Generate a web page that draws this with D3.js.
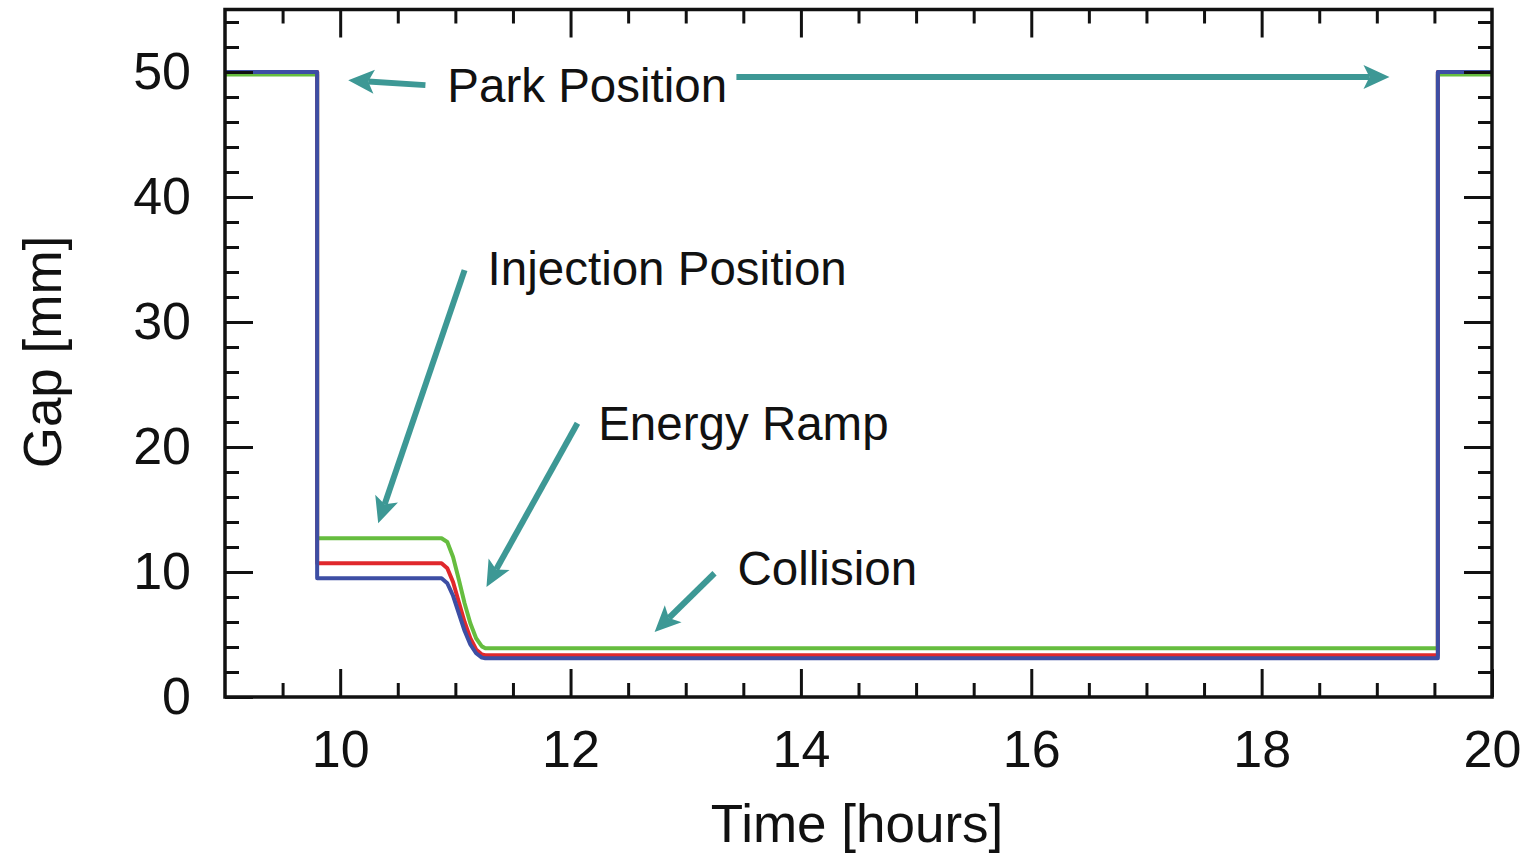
<!DOCTYPE html>
<html>
<head>
<meta charset="utf-8">
<script src="https://cdn.jsdelivr.net/npm/d3@7"></script>
<style>
  html, body { margin: 0; padding: 0; background: #fff; }
  svg { display: block; }
  text { font-family: "Liberation Sans", Arial, Helvetica, sans-serif; fill: #111; }
</style>
</head>
<body>
<svg id="chart" width="1535" height="859"></svg>
<script>
// ---- data ----
const time  = [9, 9.8, 9.8, 10.88, 10.93, 10.98, 11.03, 11.08, 11.13, 11.18, 11.23, 11.26, 19.53, 19.53, 20];
const blue  = [50, 50, 9.5, 9.5, 9.1, 8.1, 6.7, 5.3, 4.2, 3.5, 3.15, 3.1, 3.1, 50, 50];
const red   = [50, 50, 10.7, 10.7, 10.3, 9.2, 7.6, 6.0, 4.7, 3.8, 3.4, 3.35, 3.35, 50, 50];
const green = [49.8, 49.8, 12.7, 12.7, 12.4, 11.2, 9.4, 7.5, 5.9, 4.7, 4.05, 3.9, 3.9, 49.8, 49.8];

const xTickLabels = [10, 12, 14, 16, 18, 20];
const yTickLabels = [0, 10, 20, 30, 40, 50];

const annotations = [
  { text: "Park Position",      x: 10.93, y: 47.6 },
  { text: "Injection Position", x: 11.28, y: 32.95 },
  { text: "Energy Ramp",        x: 12.24, y: 20.55 },
  { text: "Collision",          x: 13.45, y: 8.95 }
];
const arrowsFrom = [[10.74, 48.95], [13.44, 49.6], [11.08, 34.15], [12.06, 21.9], [13.25, 9.9]];
const arrowsTo   = [[10.07, 49.35], [19.11, 49.6], [10.33, 13.9], [11.27, 8.8], [12.73, 5.2]];

// ---- layout ----
const svg = d3.select("#chart");
const x = d3.scaleLinear().domain([9, 20]).range([225, 1492]);
const y = d3.scaleLinear().domain([0, 55]).range([697, 9.5]);
const font = "Liberation Sans, Arial, Helvetica, sans-serif";

// ---- series ----
const series = [
  { name: "green", vals: green, color: "#66bd3f" },
  { name: "red",   vals: red,   color: "#e0282c" },
  { name: "blue",  vals: blue,  color: "#3d4ea4" }
];
const line = d3.line().x(d => x(d[0])).y(d => y(d[1]));
const gLines = svg.append("g");
series.forEach(s => {
  gLines.append("path")
    .datum(time.map((t, i) => [t, s.vals[i]]))
    .attr("d", line)
    .attr("fill", "none")
    .attr("stroke", s.color)
    .attr("stroke-width", 4)
    .attr("stroke-linejoin", "round");
});

// ---- axes (ticks inward on all four sides) ----
const xMinor = d3.range(9.5, 20, 0.5).filter(v => Math.abs(v % 2) > 1e-9);
const yMinor = d3.range(2, 55, 2).filter(v => v % 10 !== 0);
const xMajorAll = [10, 12, 14, 16, 18];
const yMajorAll = [10, 20, 30, 40, 50];

function styleAxis(g) {
  g.select(".domain").remove();
  g.selectAll(".tick line").attr("stroke", "#111").attr("stroke-width", 3);
  g.selectAll("text").style("font-family", font).style("font-size", "52px").attr("fill", "#111");
}
// bottom
svg.append("g").attr("transform", "translate(0,697)")
  .call(d3.axisBottom(x).tickValues(xMinor).tickSizeInner(-14).tickSizeOuter(0).tickFormat(""))
  .call(styleAxis);
svg.append("g").attr("transform", "translate(0,697)")
  .call(d3.axisBottom(x).tickValues(xTickLabels).tickSizeInner(-28).tickSizeOuter(0).tickPadding(33).tickFormat(d3.format("d")))
  .call(styleAxis);
// top
svg.append("g").attr("transform", "translate(0,9.5)")
  .call(d3.axisTop(x).tickValues(xMinor).tickSizeInner(-14).tickSizeOuter(0).tickFormat(""))
  .call(styleAxis);
svg.append("g").attr("transform", "translate(0,9.5)")
  .call(d3.axisTop(x).tickValues(xMajorAll).tickSizeInner(-28).tickSizeOuter(0).tickFormat(""))
  .call(styleAxis);
// left
svg.append("g").attr("transform", "translate(225,0)")
  .call(d3.axisLeft(y).tickValues(yMinor).tickSizeInner(-14).tickSizeOuter(0).tickFormat(""))
  .call(styleAxis);
svg.append("g").attr("transform", "translate(225,0)")
  .call(d3.axisLeft(y).tickValues(yTickLabels).tickSizeInner(-28).tickSizeOuter(0).tickPadding(34).tickFormat(d3.format("d")))
  .call(styleAxis);
// right
svg.append("g").attr("transform", "translate(1492,0)")
  .call(d3.axisRight(y).tickValues(yMinor).tickSizeInner(-14).tickSizeOuter(0).tickFormat(""))
  .call(styleAxis);
svg.append("g").attr("transform", "translate(1492,0)")
  .call(d3.axisRight(y).tickValues(yMajorAll).tickSizeInner(-28).tickSizeOuter(0).tickFormat(""))
  .call(styleAxis);

// frame
svg.append("rect")
  .attr("x", x(9)).attr("y", y(55))
  .attr("width", x(20) - x(9)).attr("height", y(0) - y(55))
  .attr("fill", "none").attr("stroke", "#111").attr("stroke-width", 3.5);

// axis titles
svg.append("text").attr("x", 857).attr("y", 842)
  .attr("text-anchor", "middle").style("font-size", "53px").text("Time [hours]");
svg.append("text").attr("transform", "translate(61,352) rotate(-90)")
  .attr("text-anchor", "middle").style("font-size", "53px").text("Gap [mm]");

// ---- annotations ----
const teal = "#3d9895";
const gAnn = svg.append("g");
arrowsFrom.forEach((p0, i) => {
  const p1 = arrowsTo[i];
  const x0 = x(p0[0]), y0 = y(p0[1]), x1 = x(p1[0]), y1 = y(p1[1]);
  const dx = x1 - x0, dy = y1 - y0, L = Math.hypot(dx, dy);
  const ux = dx / L, uy = dy / L, nx = -uy, ny = ux;
  const hl = 26, hw = 12, notch = 6;
  gAnn.append("line")
    .attr("x1", x0).attr("y1", y0)
    .attr("x2", x1 - ux * (hl - notch)).attr("y2", y1 - uy * (hl - notch))
    .attr("stroke", teal).attr("stroke-width", 6);
  const bx = x1 - ux * hl, by = y1 - uy * hl;
  const pts = [
    [x1, y1],
    [bx + nx * hw, by + ny * hw],
    [x1 - ux * (hl - notch), y1 - uy * (hl - notch)],
    [bx - nx * hw, by - ny * hw]
  ];
  gAnn.append("path").attr("d", "M" + pts.map(p => p.join(",")).join("L") + "Z").attr("fill", teal);
});
annotations.forEach(a => {
  gAnn.append("text").attr("x", x(a.x)).attr("y", y(a.y))
    .style("font-size", "47.5px").text(a.text);
});
</script>
</body>
</html>
